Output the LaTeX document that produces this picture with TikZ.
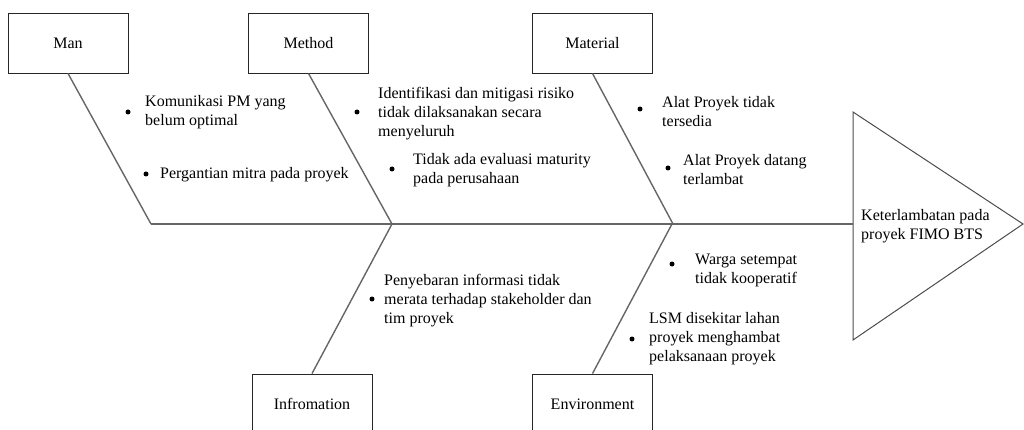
\documentclass[tikz,border=0pt]{standalone}
\usepackage{fontspec}
\setmainfont{Liberation Serif}
\begin{document}
\begin{tikzpicture}[x=1pt,y=-1pt,
  font=\fontsize{16}{19}\selectfont,
  catbox/.style={draw=black!85,line width=0.9pt,minimum width=120pt,minimum height=60pt,inner sep=0pt},
  bone/.style={draw=black!60,line width=1.4pt},
  headline/.style={draw=black!70,line width=1pt},
  item/.style={anchor=west,align=left,inner sep=0pt},
  dot/.style={circle,fill=black,inner sep=0pt,minimum size=5pt}]
\clip (0,0) rectangle (1024,430);
% category boxes
\node[catbox] (man) at (68,43) {Man};
\node[catbox] (method) at (308.5,43) {Method};
\node[catbox] (material) at (592.5,43) {Material};
\node[catbox] (info) at (312,404) {Infromation};
\node[catbox] (env) at (592.5,404) {Environment};
% head triangle
\coordinate (hw) at (853,224);
\draw[headline] (853,112) -- (1023,224) -- (853,340) -- cycle;
\node[item] (head) at (861,226) {Keterlambatan pada\\proyek FIMO BTS};
% spine joints
\coordinate (j1) at (151,224);
\coordinate (j2) at (392,224);
\coordinate (j3) at (673,224);
\draw[bone] (j1) -- (hw);
\draw[bone] (man.south) -- (j1);
\draw[bone] (method.south) -- (j2);
\draw[bone] (material.south) -- (j3);
\draw[bone] (info.north) -- (j2);
\draw[bone] (env.north) -- (672,224);
% causes
\node[dot] (d1) at (128,112) {};
\node[item] (t1) at (145,112.5) {Komunikasi PM yang\\belum optimal};
\node[dot] (d2) at (146,174) {};
\node[item] (t2) at (160,175) {Pergantian mitra pada proyek};
\node[dot] (d3) at (357,112) {};
\node[item] (t3) at (378,113.5) {Identifikasi dan mitigasi risiko\\tidak dilaksanakan secara\\menyeluruh};
\node[dot] (d4) at (392,169) {};
\node[item] (t4) at (413,170) {Tidak ada evaluasi maturity\\pada perusahaan};
\node[dot] (d5) at (640,109) {};
\node[item] (t5) at (662,111.5) {Alat Proyek tidak\\tersedia};
\node[dot] (d6) at (668,168) {};
\node[item] (t6) at (683,169.5) {Alat Proyek datang\\terlambat};
\node[dot] (d7) at (372,299) {};
\node[item] (t7) at (384,301) {Penyebaran informasi tidak\\merata terhadap stakeholder dan\\tim proyek};
\node[dot] (d8) at (672,264) {};
\node[item] (t8) at (695,270) {Warga setempat\\tidak kooperatif};
\node[dot] (d9) at (632,339) {};
\node[item] (t9) at (649,339) {LSM disekitar lahan\\proyek menghambat\\pelaksanaan proyek};
\end{tikzpicture}
\end{document}
